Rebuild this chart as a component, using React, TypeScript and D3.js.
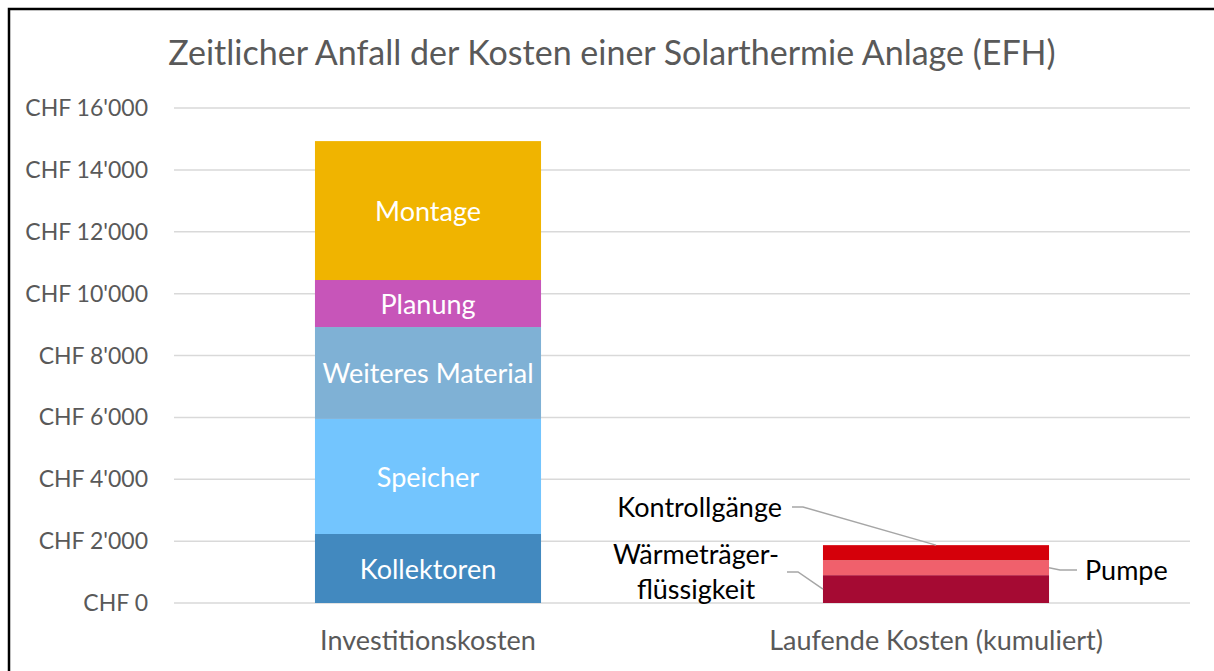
import React from "react";
import * as d3 from "d3";

const categories = ["Investitionskosten", "Laufende Kosten (kumuliert)"];
const investNames = ["Kollektoren", "Speicher", "Weiteres Material", "Planung", "Montage"];
const investValues = [2230, 3720, 2970, 1520, 4490];
const investColors = ["#4289BF", "#73C5FE", "#7FB1D5", "#C755B9", "#F0B400"];
const runningNames = ["Wärmeträgerflüssigkeit", "Pumpe", "Kontrollgänge"];
const runningValues = [900, 480, 490];
const runningColors = ["#A50A33", "#F0606C", "#D5000A"];
const yTicks = [0, 2000, 4000, 6000, 8000, 10000, 12000, 14000, 16000];
const title = "Zeitlicher Anfall der Kosten einer Solarthermie Anlage (EFH)";

const W = 1214;
const H = 671;
const FONT = "Lato, 'Open Sans', sans-serif";

export default function App() {
  const x = d3.scaleBand().domain(categories).range([174, 1190]).paddingInner(0.555).paddingOuter(0.2775);
  const y = d3.scaleLinear().domain([0, 16000]).range([603, 108]);
  const fmt = (v: number) => "CHF " + d3.format(",")(v).replace(/,/g, "'");

  const stack = (vals: number[]) => {
    let acc = 0;
    return vals.map((v) => {
      const s = { y0: acc, y1: acc + v };
      acc += v;
      return s;
    });
  };
  const invStack = stack(investValues);
  const runStack = stack(runningValues);
  const x0 = x(categories[0])!;
  const x1 = x(categories[1])!;
  const bw = x.bandwidth();

  const kTop = y(runStack[2].y1);
  const pMid = y((runStack[1].y0 + runStack[1].y1) / 2);
  const wMid = y((runStack[0].y0 + runStack[0].y1) / 2);

  return (
    <svg width={W} height={H} style={{ position: "absolute", left: 0, top: 0, background: "#fff" }} fontFamily={FONT}>
      <rect x={0} y={0} width={W} height={H} fill="#fff" />
      <rect x={9} y={9} width={W + 20} height={H + 20} fill="none" stroke="#000" strokeWidth={2.5} />
      <text x={612} y={65} textAnchor="middle" fontSize={34} fill="#595959">{title}</text>
      {yTicks.map((t) => (
        <g key={t}>
          <line x1={174} x2={1190} y1={y(t)} y2={y(t)} stroke="#d9d9d9" strokeWidth={1.5} />
          <text x={148} y={y(t)} dy="0.35em" textAnchor="end" fontSize={23} fill="#595959">{fmt(t)}</text>
        </g>
      ))}
      {investValues.map((v, i) => (
        <g key={investNames[i]}>
          <rect x={x0} width={bw} y={y(invStack[i].y1)} height={y(invStack[i].y0) - y(invStack[i].y1)} fill={investColors[i]} />
          <text x={x0 + bw / 2} y={y((invStack[i].y0 + invStack[i].y1) / 2) + 1} dy="0.35em" textAnchor="middle" fontSize={27} fill="#fff">{investNames[i]}</text>
        </g>
      ))}
      {runningValues.map((v, i) => (
        <rect key={runningNames[i]} x={x1} width={bw} y={y(runStack[i].y1)} height={y(runStack[i].y0) - y(runStack[i].y1)} fill={runningColors[i]} />
      ))}
      <polyline points={`792,507 803,507 ${x1 + bw / 2},${kTop}`} fill="none" stroke="#a6a6a6" strokeWidth={1.5} />
      <text x={782} y={508} dy="0.35em" textAnchor="end" fontSize={27} fill="#000">Kontrollgänge</text>
      <polyline points={`${x1 + bw},${pMid} 1060,570 1077,570`} fill="none" stroke="#a6a6a6" strokeWidth={1.5} />
      <text x={1085} y={571} dy="0.35em" fontSize={27} fill="#000">Pumpe</text>
      <polyline points={`787,572 798,572 ${x1},${wMid}`} fill="none" stroke="#a6a6a6" strokeWidth={1.5} />
      <text x={696} y={555} dy="0.35em" textAnchor="middle" fontSize={27} fill="#000">Wärmeträger-</text>
      <text x={696} y={590} dy="0.35em" textAnchor="middle" fontSize={27} fill="#000">flüssigkeit</text>
      {categories.map((c) => (
        <text key={c} x={x(c)! + bw / 2} y={641} dy="0.35em" textAnchor="middle" fontSize={27} fill="#595959">{c}</text>
      ))}
    </svg>
  );
}
